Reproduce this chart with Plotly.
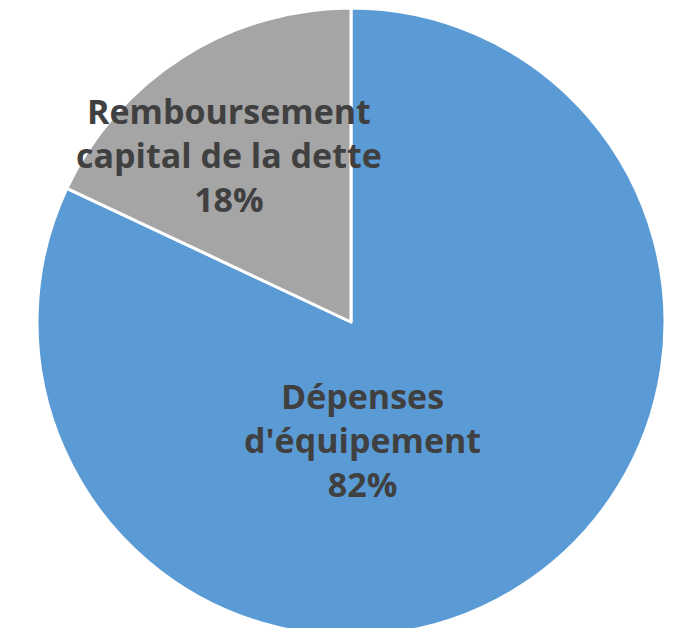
import plotly.graph_objects as go

labels = ["Dépenses<br>d'équipement", "Remboursement<br>capital de la dette"]
values = [82, 18]
colors = ["#5B9BD5", "#A5A5A5"]
label_pos = [(0.517, 0.312), (0.322, 0.766)]

fig = go.Figure(go.Pie(
    labels=labels,
    values=values,
    sort=False,
    direction="clockwise",
    rotation=0,
    marker=dict(colors=colors, line=dict(color="white", width=3)),
    textinfo="none",
    hoverinfo="label+percent",
    showlegend=False,
))

total = sum(values)
for lab, val, (px, py) in zip(labels, values, label_pos):
    fig.add_annotation(
        x=px, y=py, xref="paper", yref="paper",
        xanchor="center", yanchor="middle",
        text=f"<b>{lab}<br>{round(100*val/total)}%</b>",
        showarrow=False,
        font=dict(family="Open Sans", size=34, color="#404040"),
        align="center",
    )

fig.update_layout(
    width=686, height=628,
    margin=dict(l=0, r=0, t=0, b=0),
    paper_bgcolor="white",
    plot_bgcolor="white",
)

fig.write_html("out.html")
